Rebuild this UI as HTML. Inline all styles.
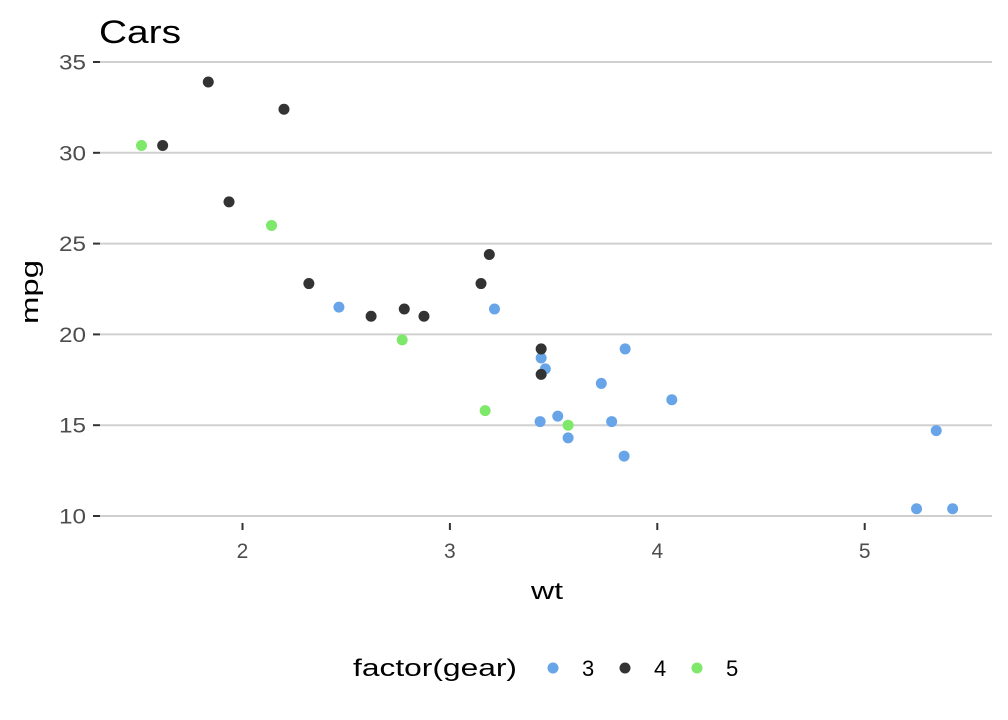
<!DOCTYPE html>
<html><head><meta charset="utf-8"><style>
body{margin:0;background:#fff;}
svg{display:block;font-family:"Liberation Sans",sans-serif;}
</style></head><body>
<svg id="chart" width="1008" height="720">
<text x="99" y="43" font-size="32" textLength="82" lengthAdjust="spacingAndGlyphs" fill="#000">Cars</text>
<g id="grid"></g><g id="axes"></g><g id="points"></g>
<text x="547" y="599" font-size="24" textLength="32" lengthAdjust="spacingAndGlyphs" text-anchor="middle" fill="#000">wt</text>
<text transform="translate(38,292) rotate(-90)" font-size="24" textLength="64" lengthAdjust="spacingAndGlyphs" text-anchor="middle" fill="#000">mpg</text>
<g>
<text x="353" y="676" font-size="24" textLength="164" lengthAdjust="spacingAndGlyphs" fill="#000">factor(gear)</text>
<g id="legend"></g>
</g>
</svg>
<script>
const wt=[2.620,2.875,2.320,3.215,3.440,3.460,3.570,3.190,3.150,3.440,3.440,4.070,3.730,3.780,5.250,5.424,5.345,2.200,1.615,1.835,2.465,3.520,3.435,3.840,3.845,1.935,2.140,1.513,3.170,2.770,3.570,2.780];
const mpg=[21.0,21.0,22.8,21.4,18.7,18.1,14.3,24.4,22.8,19.2,17.8,16.4,17.3,15.2,10.4,10.4,14.7,32.4,30.4,33.9,21.5,15.5,15.2,13.3,19.2,27.3,26.0,30.4,15.8,19.7,15.0,21.4];
const gear=[4,4,4,3,3,3,3,4,4,4,4,3,3,3,3,3,3,4,4,4,3,3,3,3,3,4,5,5,5,5,5,4];
const xTicks=[2,3,4,5];
const yTicks=[10,15,20,25,30,35];
const gearLevels=[3,4,5];
const colors={3:"#67a5e8",4:"#333333",5:"#7ee86a"};
const NS="http://www.w3.org/2000/svg";
const xs=v=>242.5+(v-2)*207.4;
const ys=v=>516-(v-10)*18.16;
function mk(tag,attrs,parent){const e=document.createElementNS(NS,tag);for(const k in attrs)e.setAttribute(k,attrs[k]);parent.appendChild(e);return e;}
const grid=document.getElementById('grid'),axes=document.getElementById('axes'),pts=document.getElementById('points'),leg=document.getElementById('legend');
yTicks.forEach(t=>{
 const l=mk('line',{x1:100,x2:992,y1:ys(t),y2:ys(t),stroke:'#d0d0d0','stroke-width':2},grid);
 
 
 const tk=mk('line',{x1:93,x2:100,y1:ys(t),y2:ys(t),stroke:'#333','stroke-width':2},axes);
 
 
 const tx=mk('text',{x:86,y:ys(t)+7.5,'font-size':21,textLength:27,lengthAdjust:'spacingAndGlyphs','text-anchor':'end',fill:'#4d4d4d'},axes);
 tx.textContent=t;
 
 
});
xTicks.forEach(t=>{
 const tk=mk('line',{x1:xs(t),x2:xs(t),y1:523,y2:530,stroke:'#333','stroke-width':2},axes);
 
 
 const tx=mk('text',{x:xs(t),y:558,'font-size':21,'text-anchor':'middle',fill:'#4d4d4d'},axes);
 tx.textContent=t;
 
 
});
wt.forEach((w,i)=>{
 const c=mk('circle',{cx:xs(w),cy:ys(mpg[i]),r:5.5,fill:colors[gear[i]]},pts);
 
 
});
gearLevels.forEach((g,i)=>{
 const x=553+i*72;
 const c=mk('circle',{cx:x,cy:668,r:5.5,fill:colors[g]},leg);
 
 
 const t=mk('text',{x:x+29,y:676,'font-size':22,fill:'#000'},leg);
 t.textContent=g;
 
 
});
</script>
</body></html>
